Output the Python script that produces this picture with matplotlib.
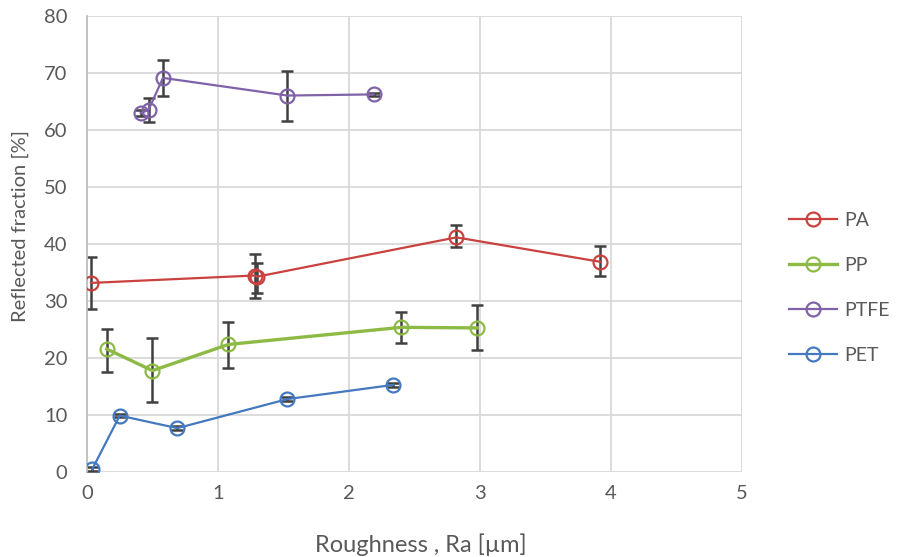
import matplotlib
matplotlib.use("Agg")
import matplotlib.pyplot as plt

plt.rcParams['font.family'] = ['Lato', 'DejaVu Sans']

# Data
pa_x = [0.03, 1.28, 1.30, 2.82, 3.92]
pa_y = [33.2, 34.5, 34.3, 41.2, 36.9]
pa_lo = [28.6, 30.5, 31.4, 39.5, 34.4]
pa_hi = [37.7, 38.2, 36.7, 43.3, 39.6]

pp_x = [0.15, 0.50, 1.08, 2.40, 2.98]
pp_y = [21.6, 17.8, 22.4, 25.4, 25.3]
pp_lo = [17.5, 12.3, 18.2, 22.6, 21.4]
pp_hi = [25.1, 23.5, 26.3, 28.1, 29.3]

ptfe_x = [0.41, 0.47, 0.58, 1.53, 2.19]
ptfe_y = [63.0, 63.6, 69.2, 66.1, 66.3]
ptfe_lo = [62.5, 61.4, 66.1, 61.6, 66.0]
ptfe_hi = [63.5, 65.6, 72.3, 70.4, 66.6]

pet_x = [0.04, 0.25, 0.69, 1.53, 2.34]
pet_y = [0.5, 9.9, 7.7, 12.8, 15.3]
pet_lo = [0.2, 9.6, 7.4, 12.5, 15.0]
pet_hi = [0.8, 10.2, 8.0, 13.1, 15.6]

x_ticks = [0, 1, 2, 3, 4, 5]
y_ticks = [0, 10, 20, 30, 40, 50, 60, 70, 80]

series = [
    ("PA", pa_x, pa_y, pa_lo, pa_hi, "#C9423F", 1.6),
    ("PP", pp_x, pp_y, pp_lo, pp_hi, "#8DBA45", 2.4),
    ("PTFE", ptfe_x, ptfe_y, ptfe_lo, ptfe_hi, "#7F62A8", 1.6),
    ("PET", pet_x, pet_y, pet_lo, pet_hi, "#4479BF", 1.6),
]

fig = plt.figure(figsize=(8.97, 5.57), dpi=100)
ax = fig.add_axes([0.097, 0.1526, 0.73, 0.818])

text_col = "#595959"
for name, xs, ys, lo, hi, col, lw in series:
    yerr = [[y - l for y, l in zip(ys, lo)], [h - y for y, h in zip(ys, hi)]]
    ax.errorbar(xs, ys, yerr=yerr, fmt='none', ecolor="#404040", elinewidth=1.8,
                capsize=4, capthick=1.8, zorder=2)
    ax.plot(xs, ys, color=col, lw=lw, marker='o', markersize=10,
            markerfacecolor='none', markeredgecolor=col, markeredgewidth=1.6,
            label=name, zorder=3)

ax.set_xlim(0, 5)
ax.set_ylim(0, 80)
ax.set_xticks(x_ticks)
ax.set_yticks(y_ticks)
ax.grid(True, color="#D9D9D9", lw=1.3)
ax.set_axisbelow(True)
for s in ['top', 'right', 'bottom']:
    ax.spines[s].set_visible(False)
ax.spines['left'].set_color("#BFBFBF")
ax.spines['left'].set_linewidth(1.3)
ax.tick_params(axis='y', length=0, labelsize=14.5, colors=text_col, pad=14)
ax.tick_params(axis='x', length=0, labelsize=14.5, colors=text_col, pad=9)
ax.set_xlabel("Roughness , Ra [µm]", fontsize=17, color=text_col)
ax.set_ylabel("Reflected fraction [%]", fontsize=14.5, color=text_col)
ax.xaxis.set_label_coords(0.51, -0.135)
ax.yaxis.set_label_coords(-0.088, 0.54)

leg = ax.legend(loc='upper left', bbox_to_anchor=(1.045, 0.61), frameon=False,
                fontsize=14, labelspacing=1.45, handlelength=2.5, handletextpad=0.35)
for t in leg.get_texts():
    t.set_color(text_col)

fig.savefig("out.png", dpi=100)
